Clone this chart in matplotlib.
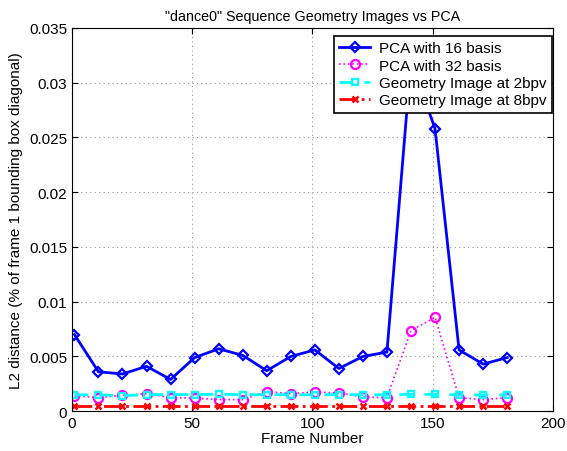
import matplotlib
matplotlib.use("Agg")
import matplotlib.pyplot as plt
import numpy as np

plt.rcParams['font.family'] = ['Liberation Sans', 'DejaVu Sans']

frames = [1, 11, 21, 31, 41, 51, 61, 71, 81, 91, 101, 111, 121, 131, 141, 151, 161, 171, 181]
pca16 = [0.0070, 0.0036, 0.0034, 0.0041, 0.0029, 0.0049, 0.0057, 0.0051, 0.0037, 0.0050,
         0.0056, 0.0039, 0.0050, 0.0054, 0.0320, 0.0258, 0.0056, 0.0043, 0.0049]
pca32 = [0.0014, 0.00124, 0.00145, 0.0016, 0.00124, 0.0012, 0.00106, 0.00106, 0.0018, 0.0016,
         0.00176, 0.00167, 0.0013, 0.00124, 0.00736, 0.00858, 0.00124, 0.00106, 0.00124]
gi2 = [0.00150, 0.00150, 0.00142, 0.00152, 0.00152, 0.00152, 0.00156, 0.00150, 0.00152, 0.00150,
       0.00150, 0.00152, 0.00150, 0.00150, 0.00154, 0.00154, 0.00150, 0.00147, 0.00150]
gi8 = [0.00050, 0.00050, 0.00050, 0.00050, 0.00050, 0.00050, 0.00050, 0.00050, 0.00050, 0.00050,
       0.00050, 0.00050, 0.00050, 0.00050, 0.00050, 0.00050, 0.00050, 0.00050, 0.00050]

labels = ["PCA with 16 basis", "PCA with 32 basis", "Geometry Image at 2bpv", "Geometry Image at 8bpv"]
xticks = [0, 50, 100, 150, 200]
yticks = [0, 0.005, 0.01, 0.015, 0.02, 0.025, 0.03, 0.035]
ytick_labels = ["0", "0.005", "0.01", "0.015", "0.02", "0.025", "0.03", "0.035"]

fig = plt.figure(figsize=(5.67, 4.52), dpi=100)
ax = fig.add_axes([0.127, 0.088, 0.848, 0.848])

ax.plot(frames, pca16, color='#0000ff', linestyle='-', linewidth=2, marker='D', markersize=5.5,
        markerfacecolor='none', markeredgewidth=1.6, label=labels[0])
ax.plot(frames, pca32, color='#ff00ff', linestyle=':', linewidth=1.2, marker='o', markersize=6.5,
        markerfacecolor='none', markeredgewidth=1.6, label=labels[1])
ax.plot(frames, gi2, color='#00ffff', linestyle='--', linewidth=2, marker='s', markersize=5,
        markerfacecolor='none', markeredgewidth=1.6, label=labels[2], dashes=(5, 4))
ax.plot(frames, gi8, color='#ff0000', linestyle='-.', linewidth=2, marker='x', markersize=4.5,
        markeredgewidth=1.8, label=labels[3])

ax.set_xlim(0, 200)
ax.set_ylim(0, 0.035)
ax.set_xticks(xticks)
ax.set_yticks(yticks)
ax.set_yticklabels(ytick_labels)
ax.tick_params(direction='in', labelsize=11, length=4, top=True, right=True)
ax.grid(True, linestyle=(0, (1, 3)), color='#999999', linewidth=0.8)
ax.set_title('"dance0" Sequence Geometry Images vs PCA', fontsize=10.3)
ax.set_xlabel('Frame Number', fontsize=11, labelpad=1)
ax.set_ylabel('L2 distance (% of frame 1 bounding box diagonal)', fontsize=11)

leg = ax.legend(loc='upper right', bbox_to_anchor=(0.998, 0.979), fontsize=11, fancybox=False,
                framealpha=1, edgecolor='black', borderaxespad=0.0, handlelength=2.0,
                borderpad=0.35, labelspacing=0.22, handletextpad=0.6)
leg.get_frame().set_linewidth(1.2)

fig.savefig('out.png', dpi=100)
